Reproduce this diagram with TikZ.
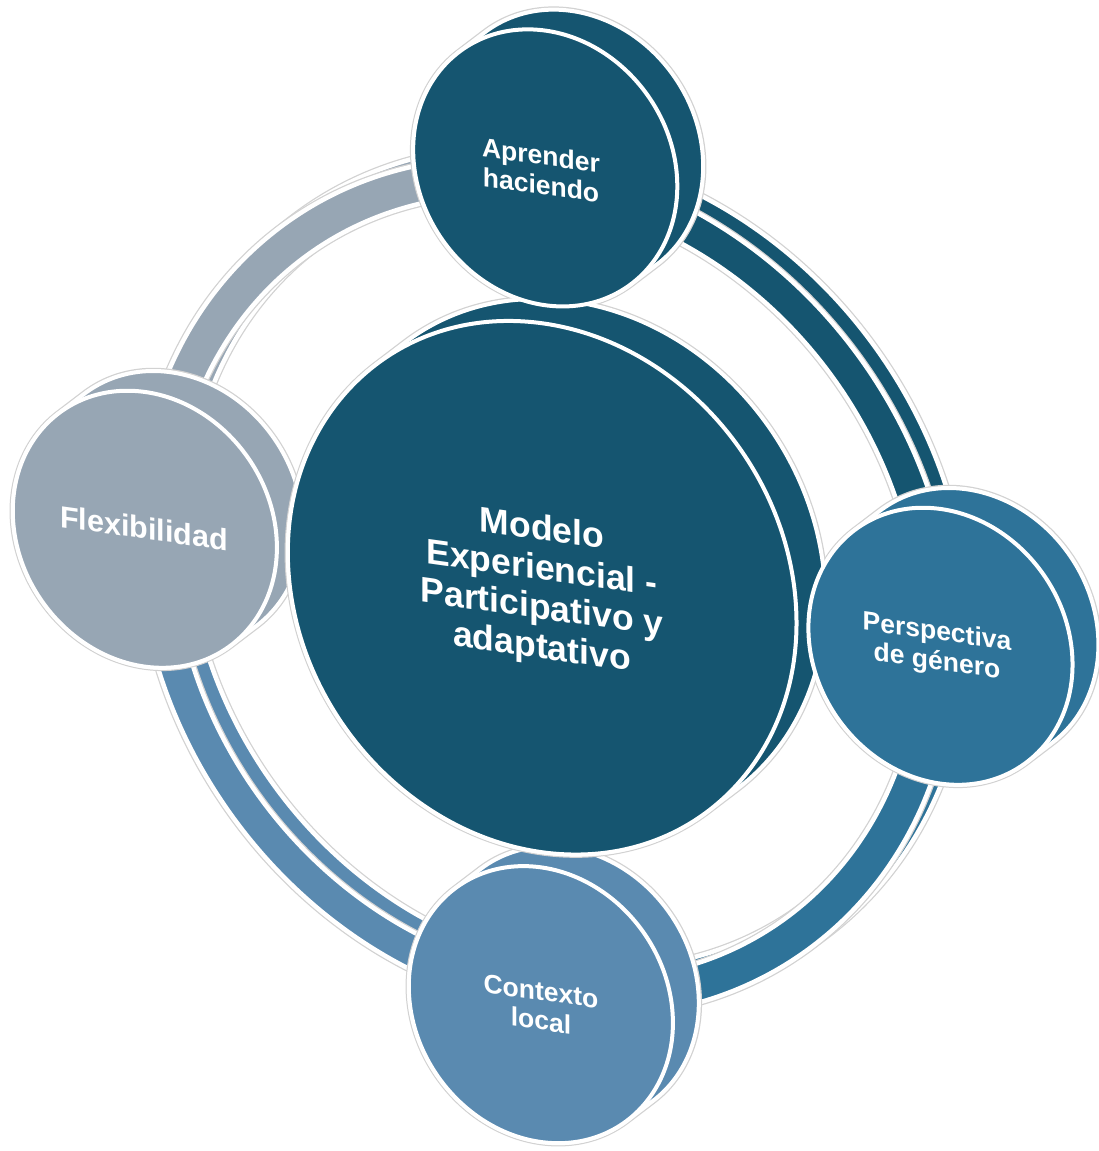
\documentclass[tikz,border=0pt]{standalone}
\usepackage{fontspec}
\setmainfont{Liberation Sans}
\definecolor{cdark}{HTML}{155570}
\definecolor{cmid}{HTML}{2E7399}
\definecolor{clight}{HTML}{5A8AB0}
\definecolor{cgray}{HTML}{97A6B4}
\definecolor{halo}{HTML}{D2D2D2}
\tikzset{
  halostroke/.style={draw=halo, line width=6.5pt, line join=round},
  bodyfill/.style={fill=#1, draw=white, line width=4pt, line join=round},
  facefill/.style={fill=#1, draw=white, line width=4pt},
  lbl/.style={text=white, align=center, inner sep=0pt, yslant=-0.14},
}
% x y r depth colour
\newcommand\cylinder[5]{%
  \begin{scope}[shift={(#1,#2)}]
    \path[halostroke] (37:#4) ++(-53:#3) arc[start angle=-53, end angle=127, radius=#3] -- (127:#3) arc[start angle=127, end angle=307, radius=#3] -- cycle;
    \path[bodyfill=#5] (37:#4) ++(-53:#3) arc[start angle=-53, end angle=127, radius=#3] -- (127:#3) arc[start angle=127, end angle=307, radius=#3] -- cycle;
  \end{scope}}
% x y r colour
\newcommand\face[4]{%
  \path[facefill=#4] (#1,#2) circle[radius=#3];}
% a1 a2 colour shift
\newcommand\band[4]{%
  \begin{scope}[shift={#4}]
    \path[halostroke, line width=7pt] (#1:418) arc[start angle=#1, end angle=#2, radius=418] -- (#2:382) arc[start angle=#2, end angle=#1, radius=382] -- cycle;
    \path[bodyfill=#3, line width=4.5pt] (#1:418) arc[start angle=#1, end angle=#2, radius=418] -- (#2:382) arc[start angle=#2, end angle=#1, radius=382] -- cycle;
  \end{scope}}
\begin{document}
\begin{tikzpicture}[x=1pt,y=1pt]
\fill[white] (0,0) rectangle (1099,1151);
\useasboundingbox (0,0) rectangle (1099,1151);
\begin{scope}[cm={0.976,-0.066,-0.066,1.024,(546,564)}]
  % ring, back part
  \band{86}{-4.5}{cdark}{(37:20)}
  \band{-4.5}{-94.5}{cmid}{(37:20)}
  \band{-94.5}{-184.5}{clight}{(37:20)}
  \band{175.5}{86}{cgray}{(37:20)}
  % ring, front part
  \band{86}{-4.5}{cdark}{(0,0)}
  \band{-4.5}{-94.5}{cmid}{(0,0)}
  \band{-94.5}{-184.5}{clight}{(0,0)}
  \band{175.5}{86}{cgray}{(0,0)}
  % bodies
  \cylinder{-33}{-410}{135}{35}{clight}
  \cylinder{-409}{30}{135}{35}{cgray}
  \cylinder{402}{-32}{135}{35}{cmid}
  \cylinder{27}{411}{135}{35}{cdark}
  \cylinder{-4}{-1}{260}{39}{cdark}
  % faces
  \face{-33}{-410}{135}{clight}
  \face{-409}{30}{135}{cgray}
  \face{402}{-32}{135}{cmid}
  \face{27}{411}{135}{cdark}
  \face{-4}{-1}{260}{cdark}
\end{scope}
\node[lbl, font=\bfseries\fontsize{26.5}{29.5}\selectfont] (tap) at (541,981) {Aprender\\haciendo};
\node[lbl, font=\bfseries\fontsize{30.5}{33}\selectfont] (tfl) at (144,623) {Flexibilidad};
\node[lbl, font=\bfseries\fontsize{26.5}{29.5}\selectfont] (tpe) at (937,503) {Perspectiva\\de género};
\node[lbl, font=\bfseries\fontsize{26.5}{29.5}\selectfont] (tco) at (541,145) {Contexto\\local};
\node[lbl, font=\bfseries\fontsize{35.5}{39.5}\selectfont] (tmo) at (542,561) {Modelo\\Experiencial -\\Participativo y\\adaptativo};
\end{tikzpicture}
\end{document}
